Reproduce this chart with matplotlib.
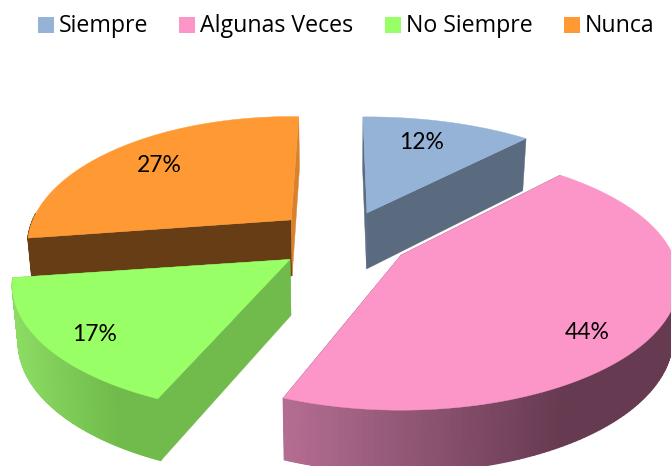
import numpy as np
import matplotlib
matplotlib.use("Agg")
import matplotlib.pyplot as plt
from matplotlib.colors import to_rgb
from matplotlib.patches import Polygon, Rectangle

categories = ["Siempre", "Algunas Veces", "No Siempre", "Nunca"]
values = [12, 44, 17, 27]

top_colors = ["#95B3D7", "#FC96C8", "#99FF66", "#FF9933"]
side_colors = ["#5A6B80", "#6A3D52", "#70BB4B", "#663D14"]
edge_colors = ["#5A6B80", "#6A3D52", "#70BB4B", "#D9822B"]
rim_left = ["#5A6B80", "#B56E93", "#8CDC64", "#663D14"]
rim_right = ["#5A6B80", "#663A50", "#70BB4B", "#663D14"]
legend_x = [38, 179, 385, 564]

# per slice corrections of the drawing, the reference is not a clean projection
rx_scale = [1.0, 1.0, 1.0, 0.95]
ry_scale = [0.93, 1.0, 1.0, 1.0]
start_trim = [0, 0, 2.8, 0]
end_trim = [0, 0, 0, 3]
y_shift = [2, -1, 0, 0]
label_dx = [-7, -13, -9, 9]
label_dy = [5, 22, 7, 0]

# pie geometry in pixels of the figure
CX, CY = 343, 240
RX, RY = 272, 124
PERSP = 0.2
EXPLODE = 0.25
DEPTH = 56
START = -1


def project(theta, r=1.0):
    """Offset of a point on the pie plane, theta clockwise from top in degrees."""
    t = np.radians(theta)
    s = 1 / (1 + PERSP * np.cos(t))
    return RX * r * np.sin(t) * s, -RY * r * np.cos(t) * s


def drop(x, y, theta):
    """Same point on the bottom face of the pie."""
    d = DEPTH / (1 + 0.1 * np.cos(np.radians(theta)))
    return x + (CX - x) * 0.018, y + d


fig = plt.figure(figsize=(6.71, 4.66), dpi=100)
ax = fig.add_axes([0, 0, 1, 1])
ax.set_xlim(0, 671)
ax.set_ylim(466, 0)
ax.axis("off")

spans = 3.6 * np.array(values)
starts = START + np.concatenate([[0], np.cumsum(spans)[:-1]])


def draw_slice(i, z):
    a0, a1 = starts[i], starts[i] + spans[i]
    mid = (a0 + a1) / 2
    t = np.radians(mid)
    ax0 = CX + RX * EXPLODE * np.sin(t)
    ay0 = CY - RY * EXPLODE * np.cos(t) + y_shift[i]
    bx0, by0 = drop(ax0, ay0, 90)

    thetas = np.linspace(a0 + start_trim[i], a1 + end_trim[i], 160)
    dx, dy = project(thetas)
    xs, ys = ax0 + dx * rx_scale[i], ay0 + dy * ry_scale[i]
    xb, yb = drop(xs, ys, thetas)

    # cut faces, start edge then end edge
    for idx in [0, -1]:
        color = edge_colors[i] if idx == -1 else side_colors[i]
        ax.add_patch(Polygon([(ax0, ay0), (xs[idx], ys[idx]), (xb[idx], yb[idx]), (bx0, by0)],
                             closed=True, fc=color, ec=color, lw=0.3, zorder=z + 0.1))

    # outer rim, shaded left to right across the front
    c0, c1 = np.array(to_rgb(rim_left[i])), np.array(to_rgb(rim_right[i]))
    lo, hi = xs.min(), xs.max()
    for k in range(len(thetas) - 1):
        if np.cos(np.radians(thetas[k])) > 0.05:
            continue
        f = min(1.0, (xs[k] - lo) / (hi - lo) / 0.72)
        color = c0 + (c1 - c0) * f
        ax.add_patch(Polygon([(xs[k], ys[k]), (xs[k + 1], ys[k + 1]), (xb[k + 1], yb[k + 1]), (xb[k], yb[k])],
                             closed=True, fc=color, ec=color, lw=1.0, zorder=z + 0.2))

    # top face
    ax.add_patch(Polygon(np.column_stack([np.r_[ax0, xs], np.r_[ay0, ys]]),
                         closed=True, fc=top_colors[i], ec=top_colors[i], lw=0.3, zorder=z + 0.3))

    lx, ly = project(mid, 0.77)
    ax.text(ax0 + lx + label_dx[i], ay0 + ly + label_dy[i], f"{values[i]}%", ha="center", va="center",
            fontsize=16.5, family="Lato", color="black", zorder=20)


for z, i in enumerate([3, 0, 2, 1]):
    draw_slice(i, z)

for name, x, color in zip(categories, legend_x, top_colors):
    ax.add_patch(Rectangle((x, 17), 16, 16, fc=color, ec="none", zorder=20))
    ax.text(x + 21, 26, name, ha="left", va="center", fontsize=16.7, family="Open Sans",
            color="black", zorder=20)

fig.savefig("out.png", dpi=100)
